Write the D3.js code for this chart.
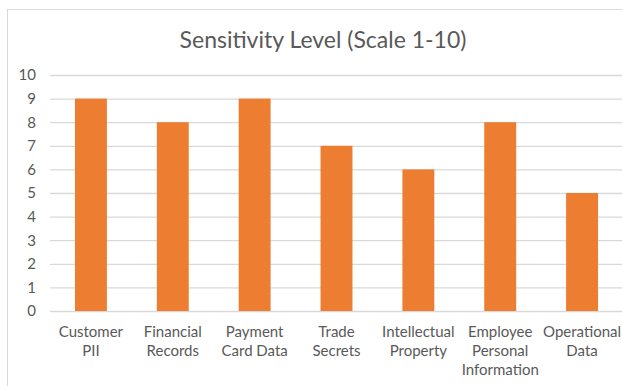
<!DOCTYPE html>
<html>
<head>
<meta charset="utf-8">
<script src="https://cdn.jsdelivr.net/npm/d3@7"></script>
<style>
  html, body { margin: 0; padding: 0; background: #ffffff; }
  svg { display: block; }
  text { font-family: Lato, "Open Sans", sans-serif; fill: #595959; }
</style>
</head>
<body>
<script>
// Sensitivity level of each data category (1-10)
const categories = [
  "Customer PII",
  "Financial Records",
  "Payment Card Data",
  "Trade Secrets",
  "Intellectual Property",
  "Employee Personal Information",
  "Operational Data"
];
const sensitivity = [9, 8, 9, 7, 6, 8, 5];
const yTicks = [0, 1, 2, 3, 4, 5, 6, 7, 8, 9, 10];
const chartTitle = "Sensitivity Level (Scale 1-10)";

const W = 622, H = 386;
const svg = d3.select("body").append("svg")
  .attr("width", W).attr("height", H);

// chart frame
svg.append("rect")
  .attr("x", 7.5).attr("y", 9.5)
  .attr("width", W + 20).attr("height", H + 20)
  .attr("fill", "#ffffff")
  .attr("stroke", "#d9d9d9")
  .attr("stroke-width", 1);

const plot = { left: 50, right: 623, top: 75, bottom: 311 };

const x = d3.scaleBand()
  .domain(categories)
  .range([plot.left, plot.right])
  .paddingInner(0.61)
  .paddingOuter(0.305);

const y = d3.scaleLinear()
  .domain([0, 10])
  .range([plot.bottom, plot.top]);

// title
svg.append("text")
  .attr("x", 323).attr("y", 48)
  .attr("text-anchor", "middle")
  .style("font-size", "23px")
  .text(chartTitle);

// gridlines + value axis labels
const yAxis = d3.axisLeft(y)
  .tickValues(yTicks)
  .tickSize(-(plot.right - plot.left))
  .tickPadding(14)
  .tickFormat(d3.format("d"));

const gy = svg.append("g")
  .attr("transform", `translate(${plot.left},0)`)
  .call(yAxis);
gy.select(".domain").remove();
gy.selectAll(".tick line")
  .attr("stroke", "#d9d9d9")
  .attr("stroke-width", 1.3);
gy.selectAll(".tick text")
  .attr("fill", "#595959")
  .style("font-size", "15px");

// bars
svg.append("g").selectAll("rect")
  .data(sensitivity)
  .join("rect")
  .attr("x", (d, i) => x(categories[i]))
  .attr("y", d => y(d))
  .attr("width", x.bandwidth())
  .attr("height", d => y(0) - y(d))
  .attr("fill", "#ed7d31");

// category labels, word-wrapped to the category slot
const maxLabelWidth = x.step() - 4;
const gx = svg.append("g");
categories.forEach(cat => {
  const cx = x(cat) + x.bandwidth() / 2;
  const t = gx.append("text")
    .attr("text-anchor", "middle")
    .style("font-size", "15px");
  const words = cat.split(" ");
  const lines = [];
  let cur = "";
  const probe = gx.append("text").style("font-size", "15px");
  words.forEach(w => {
    const test = cur ? cur + " " + w : w;
    probe.text(test);
    if (cur && probe.node().getComputedTextLength() > maxLabelWidth) {
      lines.push(cur);
      cur = w;
    } else {
      cur = test;
    }
  });
  if (cur) lines.push(cur);
  probe.remove();
  lines.forEach((ln, k) => {
    t.append("tspan")
      .attr("x", cx)
      .attr("y", 337 + k * 19)
      .text(ln);
  });
});
</script>
</body>
</html>
